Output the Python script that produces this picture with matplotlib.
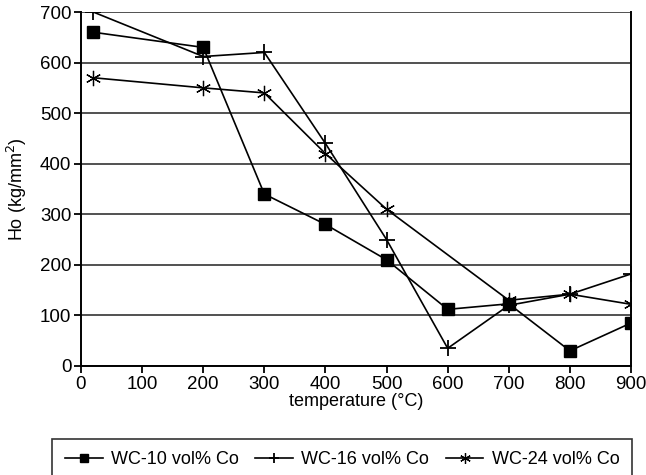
import matplotlib
matplotlib.use("Agg")
import matplotlib.pyplot as plt

plt.rcParams['font.family'] = ['Liberation Sans', 'DejaVu Sans']

temps = [20, 200, 300, 400, 500, 600, 700, 800, 900]
wc10 = [660, 630, 340, 280, 210, 112, 123, 30, 85]
wc16 = [700, 612, 620, 440, 250, 35, 120, 142, 182]
wc24_t = [20, 200, 300, 400, 500, 700, 800, 900]
wc24_v = [570, 550, 540, 420, 310, 130, 142, 122]

fig = plt.figure(figsize=(6.46, 4.75), dpi=100)
ax = fig.add_axes([81/646, 1-366/475, 550/646, 354/475])

ax.plot(temps, wc10, color='black', lw=1.2, marker='s', ms=8, label='WC-10 vol% Co')
ax.plot(temps, wc16, color='black', lw=1.2, marker='+', ms=11, mew=1.3, label='WC-16 vol% Co')
ax.plot(wc24_t, wc24_v, color='black', lw=1.2, marker=(6, 2, 0), ms=11, mew=0.9, label='WC-24 vol% Co')

ax.set_xlim(0, 900)
ax.set_ylim(0, 700)
ax.set_xticks(range(0, 901, 100))
ax.set_yticks(range(0, 701, 100))
ax.yaxis.grid(True, color='#222222', lw=1.1)
ax.set_axisbelow(True)
for s in ax.spines.values():
    s.set_linewidth(1.4)
ax.spines['top'].set_visible(False)
ax.tick_params(axis='both', direction='out', length=5, width=1.3, labelsize=13.5, pad=2)
ax.set_xlabel('temperature (°C)', fontsize=13, labelpad=0)
ax.set_ylabel('Ho (kg/mm$^{2}$)', fontsize=13, labelpad=8)

leg = fig.legend(loc='lower left', bbox_to_anchor=(52/646, -6/475, 580/646, 46/475),
                 mode='expand', ncol=3, fontsize=13, frameon=True, fancybox=False,
                 edgecolor='black', handlelength=2.1, handletextpad=0.45, columnspacing=0.3,
                 borderaxespad=0, borderpad=0.7, markerscale=0.7)
leg.get_frame().set_linewidth(1.2)

fig.savefig('out.png', dpi=100)
